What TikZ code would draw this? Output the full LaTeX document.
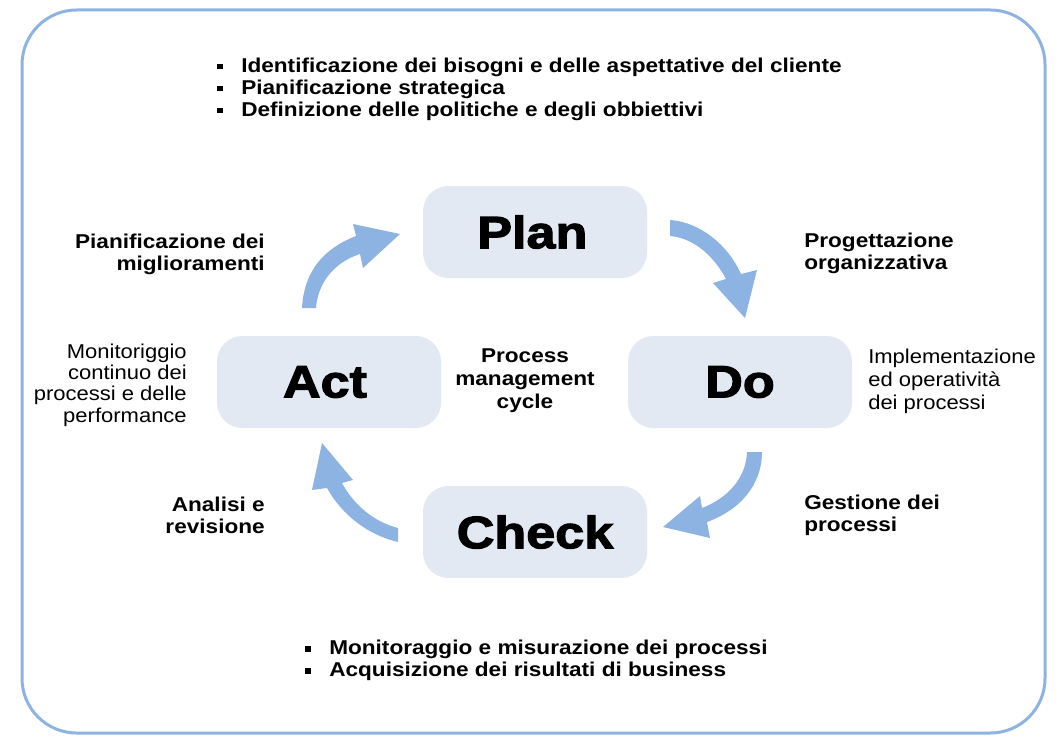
\documentclass[tikz,border=0pt]{standalone}
\usepackage{fontspec}
\setmainfont{Liberation Sans}
\newfontfamily\lbl[FakeStretch=1.13]{Liberation Sans}
\newfontfamily\rlbl[FakeStretch=1.1]{Liberation Sans}
\newfontfamily\blk[FakeStretch=1.15,BoldFeatures={FakeBold=2.6}]{Liberation Sans}
\definecolor{framecol}{HTML}{8DB3E2}
\definecolor{arrowcol}{HTML}{8DB3E2}
\definecolor{boxfill}{HTML}{E3E9F3}
\newcommand\bul{\makebox[18pt][l]{\rule[2pt]{4.2pt}{4.2pt}}}
\tikzset{
  phase/.style={fill=boxfill, rounded corners=19pt, minimum width=168pt, minimum height=69pt, inner sep=0pt,
    font=\blk\bfseries\fontsize{34}{40}\selectfont},
  boldlbl/.style={inner sep=0pt, font=\lbl\bfseries\fontsize{15}{16.5}\selectfont},
  reglbl/.style={inner sep=0pt, font=\rlbl\fontsize{15}{16}\selectfont},
  cyc/.style={fill=arrowcol, draw=none}
}
\begin{document}
\begin{tikzpicture}[x=0.75pt,y=-0.75pt]
\useasboundingbox (0,0) rectangle (1059,742);
\draw[framecol, line width=2.25pt, rounded corners=41pt] (22,10) rectangle (1045,733);

% phase boxes
\node[phase] (plan) at (535,232) {\hspace*{-4pt}Plan};
\node[phase] (act) at (329,382) {\hspace*{-6pt}Act};
\node[phase] (do) at (740,382) {Do};
\node[phase] (check) at (535,532) {Check};

% arrows
\fill[cyc] (302,308) .. controls (304,270) and (325,248) .. (356,236) -- (353,224) -- (400,234) -- (363,268) -- (360,254) .. controls (335,262) and (318,282) .. (316,308) -- cycle;
\fill[cyc] (670,220) .. controls (700,222) and (728,245) .. (741,274) -- (757,270) -- (745,318) -- (713,283) -- (726,279) .. controls (715,258) and (695,238) .. (670,236) -- cycle;
\fill[cyc] (747,452) -- (762,452) .. controls (762,485) and (740,510) .. (707,522) -- (710,538) -- (663,527) -- (700,496) -- (702,508) .. controls (728,498) and (746,478) .. (747,452) -- cycle;
\fill[cyc] (398,542) .. controls (368,535) and (342,515) .. (327,488) -- (312,490) -- (322,443) -- (353,480) -- (342,483) .. controls (354,505) and (374,522) .. (398,528) -- cycle;

% bullet lists
\node[boldlbl, anchor=west, align=left] (topbul) at (217,89) {\bul Identificazione dei bisogni e delle aspettative del cliente\\ \bul Pianificazione strategica\\ \bul Definizione delle politiche e degli obbiettivi};
\node[boldlbl, anchor=west, align=left] (botbul) at (305,660) {\bul Monitoraggio e misurazione dei processi\\ \bul Acquisizione dei risultati di business};

% labels
\node[boldlbl, anchor=east, align=right] (pmig) at (265,254) {Pianificazione dei\\ miglioramenti};
\node[boldlbl, anchor=west, align=left] (porg) at (804,253) {Progettazione\\ organizzativa};
\node[boldlbl, anchor=east, align=right] (anrev) at (265,515) {Analisi e\\ revisione};
\node[boldlbl, anchor=west, align=left] (gest) at (804,515) {Gestione dei\\ processi};
\node[boldlbl, align=center, font=\lbl\bfseries\fontsize{15}{17.3}\selectfont] (pmc) at (525,381) {Process\\ management\\ cycle};
\node[reglbl, anchor=east, align=right] (mon) at (187,385) {Monitoriggio\\ continuo dei\\ processi e delle\\ performance};
\node[reglbl, anchor=west, align=left, font=\rlbl\fontsize{15}{17.3}\selectfont] (impl) at (868,381) {Implementazione\\ ed operatività\\ dei processi};
\end{tikzpicture}
\end{document}
